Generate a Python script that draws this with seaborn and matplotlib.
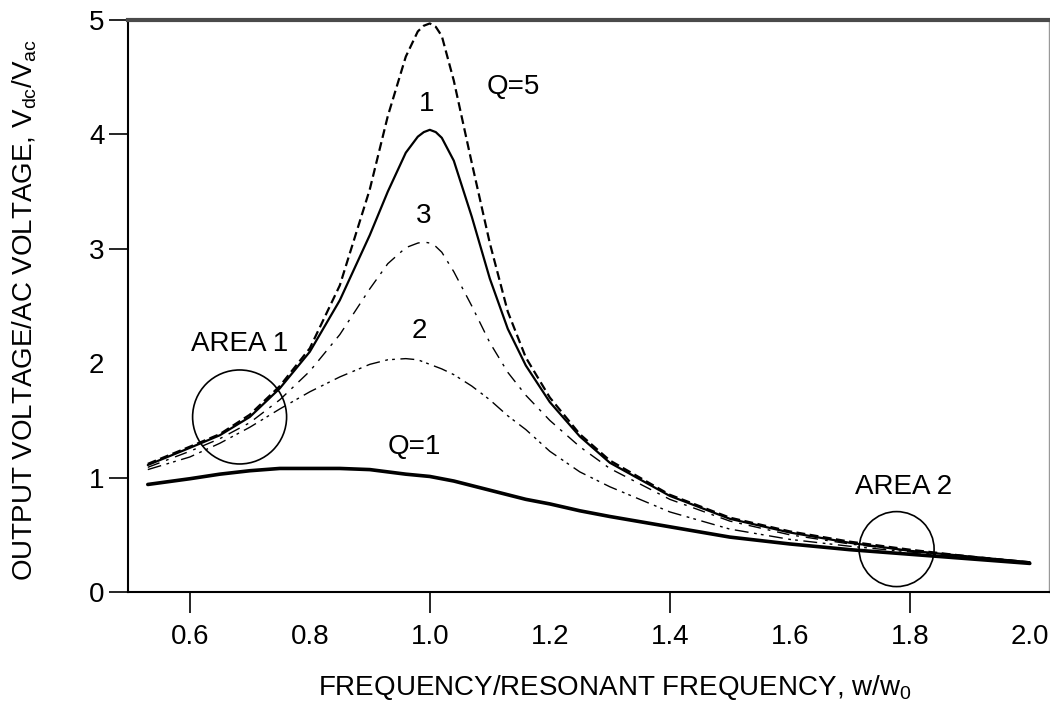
import numpy as np
import pandas as pd
import seaborn as sns
from matplotlib import pyplot as plt
from matplotlib.patches import Ellipse

# values
freq = [0.53, 0.60, 0.65, 0.70, 0.75, 0.80, 0.85, 0.90, 0.93, 0.96, 0.98, 0.99, 1.00, 1.01,
        1.02, 1.04, 1.07, 1.10, 1.13, 1.16, 1.20, 1.25, 1.30, 1.40, 1.50, 1.60, 1.70, 1.80,
        1.90, 2.00]
q5 = [1.12, 1.27, 1.38, 1.55, 1.80, 2.13, 2.68, 3.52, 4.16, 4.68, 4.90, 4.95, 4.97, 4.94,
      4.86, 4.47, 3.75, 3.05, 2.45, 2.05, 1.70, 1.38, 1.15, 0.85, 0.65, 0.53, 0.44, 0.37,
      0.31, 0.26]
q4 = [1.11, 1.26, 1.37, 1.53, 1.78, 2.10, 2.55, 3.12, 3.50, 3.84, 3.98, 4.02, 4.04, 4.02,
      3.97, 3.77, 3.28, 2.74, 2.30, 1.98, 1.66, 1.36, 1.13, 0.84, 0.64, 0.52, 0.43, 0.36,
      0.31, 0.26]
q3 = [1.09, 1.23, 1.34, 1.48, 1.68, 1.93, 2.25, 2.65, 2.87, 3.01, 3.05, 3.06, 3.05, 3.02,
      2.97, 2.80, 2.50, 2.18, 1.92, 1.72, 1.50, 1.27, 1.08, 0.81, 0.62, 0.50, 0.42, 0.36,
      0.31, 0.26]
q2 = [1.07, 1.18, 1.30, 1.44, 1.60, 1.75, 1.88, 1.99, 2.03, 2.04, 2.03, 2.01, 1.99, 1.97,
      1.95, 1.90, 1.80, 1.68, 1.54, 1.42, 1.23, 1.05, 0.92, 0.70, 0.55, 0.46, 0.40, 0.35,
      0.30, 0.25]
q1 = [0.94, 0.99, 1.03, 1.06, 1.08, 1.08, 1.08, 1.07, 1.05, 1.03, 1.02, 1.015, 1.01, 1.00,
      0.99, 0.97, 0.93, 0.89, 0.85, 0.81, 0.77, 0.71, 0.66, 0.57, 0.48, 0.42, 0.37, 0.33,
      0.29, 0.25]

x_ticks = [0.6, 0.8, 1.0, 1.2, 1.4, 1.6, 1.8, 2.0]
x_ticklabels = ['0.6', '0.8', '1.0', '1.2', '1.4', '1.6', '1.8', '2.0']
y_ticks = [0, 1, 2, 3, 4, 5]

sns.set_theme(style="white")
plt.rcParams['font.family'] = ['Liberation Sans', 'DejaVu Sans']
plt.rcParams['mathtext.fontset'] = 'custom'
plt.rcParams['mathtext.rm'] = 'Liberation Sans'
plt.rcParams['text.color'] = 'black'
plt.rcParams['xtick.color'] = 'black'
plt.rcParams['ytick.color'] = 'black'
FS = 20

fig = plt.figure(figsize=(10.5, 7.2), dpi=100)
ax = fig.add_axes([128 / 1050, 128 / 720, 921 / 1050, 572 / 720])

styles = [
    (q5, (0, (4, 2)), 1.6),
    (q4, '-', 1.6),
    (q3, (0, (9, 5, 2, 5)), 1.0),
    (q2, (0, (10, 4, 2, 3, 2, 4)), 1.0),
    (q1, '-', 2.6),
]
for vals, ls, lw in styles:
    sns.lineplot(x=freq, y=vals, color='black', linestyle=ls, linewidth=lw, ax=ax)

ax.set_xlim(0.497, 2.032)
ax.set_ylim(0, 5)
ax.set_xticks(x_ticks)
ax.set_xticklabels(x_ticklabels, fontsize=FS)
ax.set_yticks(y_ticks)
ax.set_yticklabels([str(v) for v in y_ticks], fontsize=FS)
ax.tick_params(axis='x', direction='out', length=15, width=1.2, pad=8)
ax.tick_params(axis='y', direction='out', length=14, width=1.2, pad=3)
ax.tick_params(bottom=True, left=True)
# only some ticks carry a tick mark in the reference
for t, v in zip(ax.xaxis.get_major_ticks(), x_ticks):
    if v not in (0.6, 1.0, 1.4, 1.8):
        t.tick1line.set_visible(False)
for t, v in zip(ax.yaxis.get_major_ticks(), y_ticks):
    if v == 2:
        t.tick1line.set_visible(False)

for side in ['left', 'bottom']:
    ax.spines[side].set_color('black')
    ax.spines[side].set_linewidth(1.5)
ax.spines['top'].set_color('#4a4a4a')
ax.spines['top'].set_linewidth(3)
ax.spines['right'].set_color('#999999')
ax.spines['right'].set_linewidth(1)

# annotations
ax.text(1.14, 4.41, 'Q=5', fontsize=FS, ha='center', va='center')
ax.text(0.995, 4.27, '1', fontsize=FS, ha='center', va='center')
ax.text(0.99, 3.29, '3', fontsize=FS, ha='center', va='center')
ax.text(0.983, 2.28, '2', fontsize=FS, ha='center', va='center')
ax.text(0.975, 1.27, 'Q=1', fontsize=FS, ha='center', va='center')
ax.text(0.683, 2.17, 'AREA 1', fontsize=FS, ha='center', va='center')
ax.text(1.79, 0.92, 'AREA 2', fontsize=FS, ha='center', va='center')
ax.add_patch(Ellipse((0.683, 1.53), 94 / 600, 94 / 114.4, fill=False, lw=1.2, ec='black'))
ax.add_patch(Ellipse((1.778, 0.375), 75 / 600, 75 / 114.4, fill=False, lw=1.2, ec='black'))

fig.text(615 / 1050, 1 - 688 / 720, r'FREQUENCY/RESONANT FREQUENCY, w/w$_{\mathrm{0}}$',
         fontsize=FS, ha='center', va='center')
fig.text(25 / 1050, 1 - 310 / 720,
         r'OUTPUT VOLTAGE/AC VOLTAGE, V$_{\mathrm{dc}}$/V$_{\mathrm{ac}}$',
         fontsize=FS, ha='center', va='center', rotation=90)

fig.savefig('out.png', dpi=100)
